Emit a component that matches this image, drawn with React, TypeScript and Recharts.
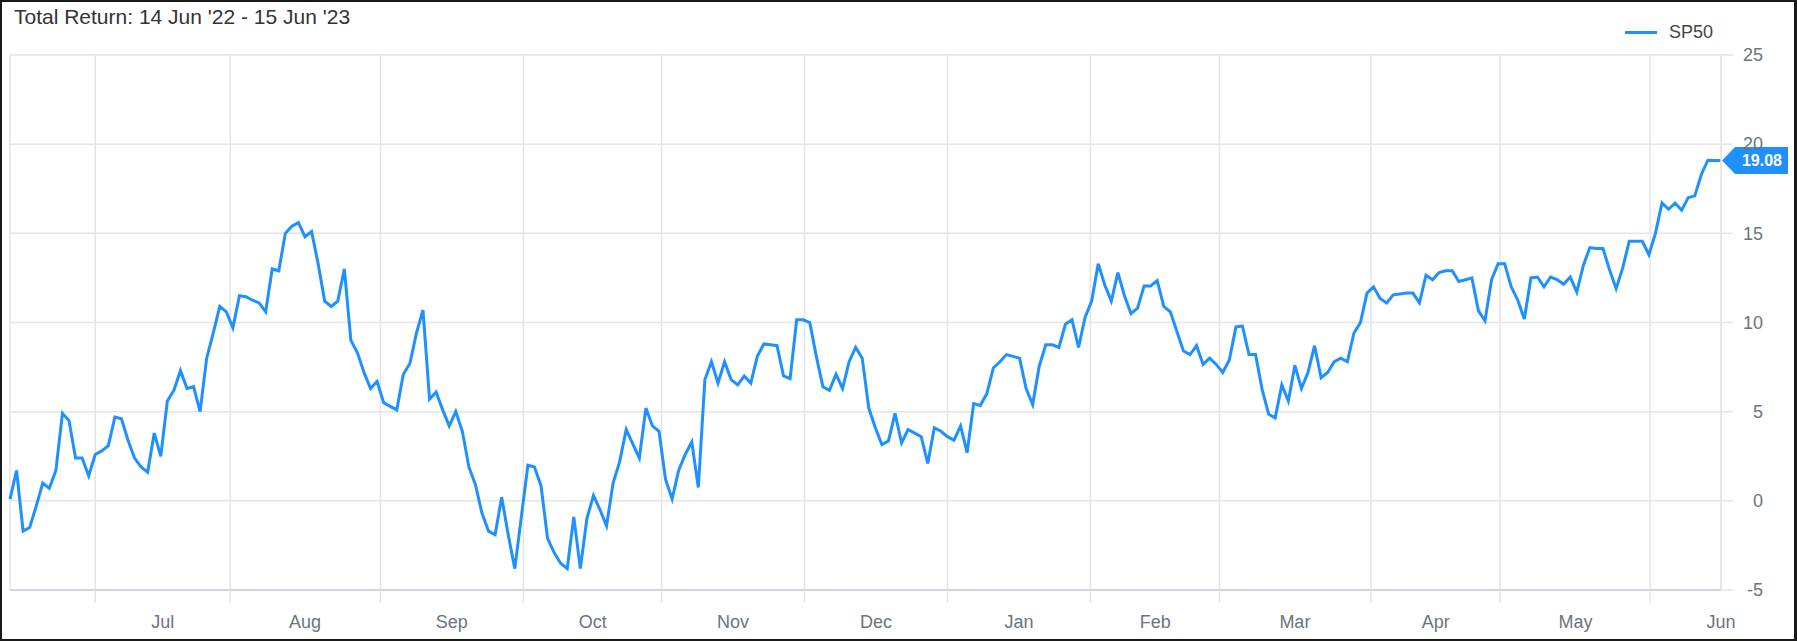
import { LineChart, Line, XAxis, YAxis, CartesianGrid, Legend, ReferenceDot } from 'recharts';

// Total return (%) of SP50, one value per trading day, 14 Jun '22 -> 15 Jun '23
const junJul22 = [
  0.1, 1.7, -1.7, -1.5, -0.3, 1.0, 0.7, 1.7, 4.9, 4.5,
  2.4, 2.4, 1.4, 2.6, 2.8, 3.1, 4.7, 4.6, 3.4, 2.4,
  1.9, 1.6, 3.8, 2.5, 5.6, 6.2, 7.3, 6.3, 6.4, 5.0,
  8.0, 9.4, 10.9, 10.6, 9.7, 11.5,
];
const augSep22 = [
  11.45, 11.25, 11.1, 10.6, 13.0, 12.9, 15.0, 15.4, 15.6, 14.8,
  15.1, 13.3, 11.2, 10.9, 11.2, 13.0, 9.0, 8.3, 7.2, 6.3,
  6.7, 5.5, 5.3, 5.1, 7.1, 7.7, 9.4, 10.7, 5.7, 6.1,
  5.1, 4.2, 5.0, 3.9, 1.9, 0.9, -0.7,
];
const sepNov22 = [
  -1.7, -1.9, 0.2, -1.9, -3.8, -0.9, 2.0, 1.9, 0.85, -2.1,
  -2.9, -3.5, -3.8, -0.9, -3.8, -1.0, 0.3, -0.5, -1.4, 1.0,
  2.2, 4.0, 3.2, 2.4, 5.2, 4.2, 3.9, 1.2, 0.1, 1.7,
  2.6, 3.3, 0.75, 6.8, 7.8, 6.6, 7.8,
];
const novDec22 = [
  6.8, 6.5, 7.0, 6.6, 8.1, 8.8, 8.75, 8.7, 7.0, 6.85,
  10.15, 10.15, 10.0, 8.1, 6.4, 6.2, 7.1, 6.3, 7.8, 8.6,
  8.0, 5.2, 4.1, 3.15, 3.35, 4.9, 3.25, 4.0, 3.8, 3.6,
  2.1, 4.1, 3.9, 3.6, 3.4, 4.2, 2.7,
];
const janFeb23 = [
  5.45, 5.35, 6.0, 7.45, 7.8, 8.2, 8.1, 8.0, 6.3, 5.4,
  7.55, 8.75, 8.75, 8.6, 9.9, 10.15, 8.6, 10.3, 11.2, 13.3,
  12.1, 11.2, 12.8, 11.5, 10.5, 10.8, 12.05, 12.05, 12.35, 10.9,
  10.6, 9.5, 8.4, 8.2, 8.7, 7.65, 8.0,
];
const marApr23 = [
  7.65, 7.2, 7.9, 9.75, 9.8, 8.2, 8.2, 6.25, 4.85, 4.65,
  6.5, 5.6, 7.6, 6.3, 7.2, 8.7, 6.9, 7.2, 7.8, 8.0,
  7.8, 9.4, 10.0, 11.65, 12.0, 11.35, 11.1, 11.55, 11.6, 11.65,
  11.65, 11.1, 12.65, 12.4, 12.8, 12.9, 12.9,
];
const aprJun23 = [
  12.3, 12.4, 12.5, 10.65, 10.1, 12.4, 13.3, 13.3, 12.0, 11.25,
  10.2, 12.5, 12.55, 12.0, 12.55, 12.4, 12.15, 12.55, 11.7, 13.2,
  14.2, 14.15, 14.15, 12.95, 11.9, 13.05, 14.55, 14.55, 14.55, 13.8,
  15.0, 16.7, 16.35, 16.7, 16.3, 17.0, 17.1, 18.3, 19.1, 19.08,
  19.08,
];

const seriesName = 'SP50';
const periodStart = "14 Jun '22";
const periodEnd = "15 Jun '23";

// month boundaries (in trading-day index) and where each month name sits
const months = ['Jul', 'Aug', 'Sep', 'Oct', 'Nov', 'Dec', 'Jan', 'Feb', 'Mar', 'Apr', 'May', 'Jun'];
const monthStart = [13, 33.6, 56.5, 78.3, 99.4, 121.2, 143, 164.8, 184.5, 207.6, 227.3, 250.2];
const monthLabelAt = [23.3, 45, 67.4, 88.9, 110.3, 132.1, 153.9, 174.7, 196, 217.5, 238.8, 261];
const yTicks = [-5, 0, 5, 10, 15, 20, 25];

const returns = [...junJul22, ...augSep22, ...sepNov22, ...novDec22, ...janFeb23, ...marApr23, ...aprJun23];
const data = returns.map((v, i) => ({ i, v }));
const last = data[data.length - 1];

const BLUE = '#1e90ff';
const GRID = '#e4e4ea';
const TICK = '#6b7480';
const FONT = 'Arial, "Liberation Sans", sans-serif';

function YTick({ x, y, payload }: any) {
  return (
    <text x={x + 28} y={y} dy="0.35em" textAnchor="end" fill={TICK} fontSize={18} fontFamily={FONT}>
      {payload.value}
    </text>
  );
}

function MonthTick({ x, y, payload }: any) {
  const k = monthLabelAt.indexOf(payload.value);
  return (
    <text x={x} y={y} dy="0.71em" textAnchor="middle" fill={TICK} fontSize={18} fontFamily={FONT}>
      {months[k]}
    </text>
  );
}

function LastBadge({ cx, cy }: any) {
  const h = 13.5;
  return (
    <g>
      <polygon
        points={`${cx + 1},${cy} ${cx + 14},${cy - h} ${cx + 67},${cy - h} ${cx + 67},${cy + h} ${cx + 14},${cy + h}`}
        fill={BLUE}
      />
      <text x={cx + 41} y={cy} dy="0.36em" textAnchor="middle" fill="#fff" fontSize={16} fontWeight="bold" fontFamily={FONT}>
        {last.v.toFixed(2)}
      </text>
    </g>
  );
}

function LegendBox() {
  return (
    <div style={{ height: 40, paddingTop: 7, boxSizing: 'border-box', display: 'flex', justifyContent: 'flex-end' }}>
      <div style={{ display: 'flex', alignItems: 'center', height: 20 }}>
        <span style={{ display: 'inline-block', width: 32, height: 3, background: BLUE, marginRight: 12 }} />
        <span style={{ fontSize: 18, color: '#444', fontFamily: FONT }}>{seriesName}</span>
      </div>
    </div>
  );
}

export default function App() {
  return (
    <div style={{ position: 'relative', width: 1797, height: 641, background: '#fff', fontFamily: FONT }}>
      <style>{'body{margin:0}'}</style>
      <div style={{ position: 'absolute', left: 14, top: 5, fontSize: 21, color: '#333', zIndex: 2 }}>
        Total Return: {periodStart} - {periodEnd}
      </div>
      <LineChart width={1797} height={641} data={data} margin={{ top: 15, right: 0, bottom: 0, left: 10 }}>
        <CartesianGrid xAxisId="grid" stroke={GRID} strokeWidth={1.5} />
        <XAxis
          xAxisId="grid"
          dataKey="i"
          type="number"
          domain={[0, returns.length - 1]}
          ticks={monthStart}
          interval={0}
          height={13}
          tickSize={13}
          tickLine={{ stroke: GRID, strokeWidth: 1.5 }}
          axisLine={{ stroke: '#c9cdd3', strokeWidth: 1.5 }}
          tickFormatter={() => ''}
        />
        <XAxis
          xAxisId="labels"
          dataKey="i"
          type="number"
          domain={[0, returns.length - 1]}
          ticks={monthLabelAt}
          interval={0}
          height={38}
          tickLine={false}
          axisLine={false}
          tickMargin={6}
          tick={<MonthTick />}
        />
        <YAxis
          orientation="right"
          domain={[-5, 25]}
          ticks={yTicks}
          interval={0}
          width={76}
          tickSize={12}
          tickLine={{ stroke: GRID, strokeWidth: 1.5 }}
          axisLine={{ stroke: GRID, strokeWidth: 1.5 }}
          tick={<YTick />}
        />
        <Legend verticalAlign="top" align="right" content={<LegendBox />} wrapperStyle={{ top: 15, right: 84, left: 'auto', width: 'auto' }} />
        <Line
          xAxisId="grid"
          dataKey="v"
          name={seriesName}
          type="linear"
          stroke={BLUE}
          strokeWidth={3}
          dot={false}
          activeDot={false}
          isAnimationActive={false}
        />
        <ReferenceDot xAxisId="grid" x={last.i} y={last.v} r={0} ifOverflow="visible" shape={<LastBadge />} />
      </LineChart>
      <div
        style={{
          position: 'absolute',
          inset: 0,
          border: '2px solid #1a1a1a',
          borderRightWidth: 3,
          pointerEvents: 'none',
        }}
      />
    </div>
  );
}
